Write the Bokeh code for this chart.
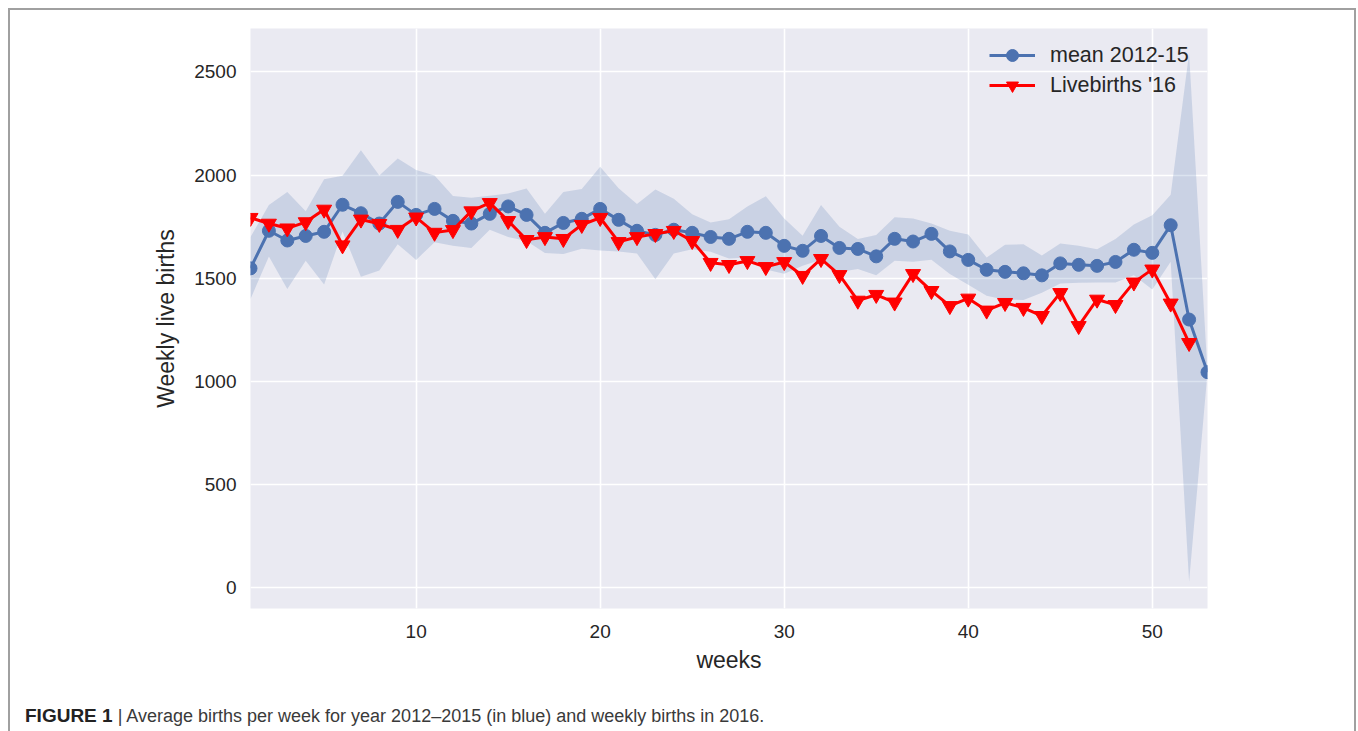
from bokeh.plotting import figure
from bokeh.models import Range1d, FixedTicker, Legend, LegendItem, Div
from bokeh.layouts import column
from bokeh.embed import file_html
from bokeh.resources import INLINE

# ---------------- data ----------------
weeks_mean = list(range(1, 54))
mean_2012_15 = [1548, 1730, 1683, 1705, 1725, 1856, 1815, 1765, 1870, 1807,
                1836, 1778, 1765, 1812, 1848, 1807, 1720, 1768, 1788, 1836,
                1783, 1730, 1710, 1735, 1720, 1700, 1691, 1725, 1720, 1657,
                1633, 1705, 1647, 1642, 1606, 1691, 1678, 1715, 1630, 1589,
                1541, 1531, 1524, 1514, 1572, 1565, 1560, 1579, 1638, 1623,
                1757, 1300, 1045]
band_upper = [1700, 1855, 1918, 1825, 1980, 1996, 2120, 1998, 2080, 2025,
              1998, 1899, 1890, 1900, 1910, 1935, 1812, 1918, 1933, 2040,
              1936, 1860, 1930, 1885, 1810, 1770, 1786, 1848, 1897, 1790,
              1706, 1855, 1750, 1690, 1710, 1795, 1790, 1765, 1730, 1712,
              1600, 1662, 1665, 1610, 1668, 1658, 1640, 1690, 1760, 1805,
              1905, 2590, 1045]
band_lower = [1400, 1605, 1448, 1585, 1470, 1726, 1507, 1538, 1665, 1589,
              1674, 1657, 1647, 1735, 1700, 1680, 1622, 1618, 1643, 1635,
              1630, 1620, 1495, 1620, 1640, 1628, 1596, 1600, 1543, 1522,
              1560, 1590, 1530, 1545, 1515, 1585, 1580, 1590, 1520, 1468,
              1415, 1396, 1395, 1430, 1475, 1478, 1480, 1480, 1515, 1445,
              1580, 30, 1045]
weeks_2016 = list(range(1, 53))
births_2016 = [1793, 1765, 1742, 1772, 1833, 1660, 1785, 1764, 1735, 1795,
               1721, 1734, 1825, 1865, 1778, 1686, 1700, 1691, 1759, 1793,
               1676, 1700, 1715, 1730, 1681, 1575, 1565, 1584, 1555, 1579,
               1512, 1594, 1516, 1392, 1420, 1383, 1521, 1439, 1366, 1402,
               1344, 1381, 1357, 1318, 1429, 1269, 1397, 1371, 1480, 1543,
               1378, 1187]

x_ticks = [10, 20, 30, 40, 50]
y_ticks = [0, 500, 1000, 1500, 2000, 2500]

label_mean = "mean 2012-15"
label_2016 = "Livebirths '16"
x_label = "weeks"
y_label = "Weekly live births"
caption_bold = "FIGURE 1"
caption_text = "| Average births per week for year 2012\u20132015 (in blue) and weekly births in 2016."

BLUE = "#4C72B0"
RED = "#FF0000"
FONT = "Liberation Sans"
TXT = "#262626"

# ---------------- figure ----------------
W, H, CAP_H = 1344, 690, 31
p = figure(width=W, height=H, x_range=Range1d(1, 53), y_range=Range1d(-100, 2710),
           output_backend="svg", toolbar_location=None,
           min_border_left=240, min_border_right=147,
           min_border_top=18, min_border_bottom=92)
p.background_fill_color = "#EAEAF2"
p.border_fill_color = "white"
p.outline_line_color = None

for g in (p.xgrid, p.ygrid):
    g.grid_line_color = "white"
    g.grid_line_width = 1.6
p.xaxis.ticker = FixedTicker(ticks=x_ticks)
p.yaxis.ticker = FixedTicker(ticks=y_ticks)

for ax in (p.xaxis, p.yaxis):
    ax.axis_line_color = None
    ax.major_tick_line_color = None
    ax.minor_tick_line_color = None
    ax.major_tick_out = 0
    ax.major_tick_in = 0
    ax.minor_tick_out = 0
    ax.minor_tick_in = 0
    ax.major_label_text_font = FONT
    ax.major_label_text_font_size = "19px"
    ax.major_label_text_color = TXT
    ax.axis_label_text_font = FONT
    ax.axis_label_text_font_size = "23px"
    ax.axis_label_text_font_style = "normal"
    ax.axis_label_text_color = TXT

p.xaxis.axis_label = x_label
p.yaxis.axis_label = y_label
p.xaxis.major_label_standoff = 16
p.yaxis.major_label_standoff = 14
p.xaxis.axis_label_standoff = 6
p.yaxis.axis_label_standoff = 12

# band
p.varea(x=weeks_mean, y1=band_lower, y2=band_upper, fill_color=BLUE, fill_alpha=0.2)

# mean line
bl = p.line(weeks_mean, mean_2012_15, line_color=BLUE, line_width=3)
bs = p.scatter(weeks_mean, mean_2012_15, marker="circle", size=13,
               fill_color=BLUE, line_color=BLUE)
# 2016 line
rl = p.line(weeks_2016, births_2016, line_color=RED, line_width=3)
rs = p.scatter(weeks_2016, births_2016, marker="inverted_triangle", size=15,
               fill_color=RED, line_color=RED)

legend = Legend(items=[LegendItem(label=label_mean, renderers=[bl, bs]),
                       LegendItem(label=label_2016, renderers=[rl, rs])],
                location=(739, 508))
legend.border_line_color = None
legend.background_fill_alpha = 0
legend.padding = 0
legend.margin = 0
legend.spacing = 0
legend.glyph_width = 46
legend.glyph_height = 30
legend.label_height = 30
legend.label_standoff = 15
legend.label_text_font = FONT
legend.label_text_font_size = "21.5px"
legend.label_text_color = TXT
p.add_layout(legend)

# caption
caption = Div(
    text=('<div style="padding-top:0px;padding-left:10px;line-height:22px;'
          'font-family:\'Liberation Sans\';font-size:18px;color:#3a3a3a;'
          'white-space:nowrap;">'
          '<span style="font-weight:bold;font-size:19px;color:#222222;">' + caption_bold + '</span> '
          + caption_text + '</div>'),
    width=W, height=CAP_H)

layout = column(p, caption, spacing=0, sizing_mode="fixed",
                width=W + 4, height=H + CAP_H + 2)
layout.margin = (8, 0, 0, 8)
layout.styles = {"border-left": "2px solid #a0a0a0",
                 "border-top": "2px solid #a0a0a0",
                 "border-right": "2px solid #a0a0a0",
                 "overflow": "hidden"}

open("out.html", "w").write(file_html(layout, INLINE))
